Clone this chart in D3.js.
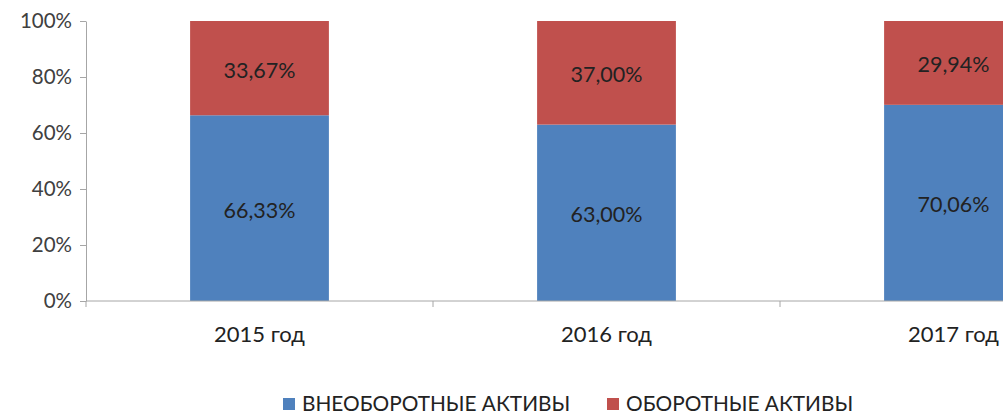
<!DOCTYPE html>
<html>
<head>
<meta charset="utf-8">
<script src="https://cdn.jsdelivr.net/npm/d3@7"></script>
<style>
  body { margin: 0; background: #fff; }
  text { font-family: Lato, "Open Sans", sans-serif; fill: #333; }
</style>
</head>
<body>
<div id="chart"></div>
<script>
// data
const years = ["2015 год", "2016 год", "2017 год"]
const nonCurrent = [66.33, 63.00, 70.06]  // ВНЕОБОРОТНЫЕ АКТИВЫ
const current = [33.67, 37.00, 29.94]     // ОБОРОТНЫЕ АКТИВЫ
const seriesNames = ["ВНЕОБОРОТНЫЕ АКТИВЫ", "ОБОРОТНЫЕ АКТИВЫ"]
const seriesColors = ["#4f81bd", "#c0504d"]
const yTicks = [0, 20, 40, 60, 80, 100]

const width = 1003, height = 418
const margin = { top: 21, left: 86, bottom: 117 }

const svg = d3.select("#chart").append("svg")
    .attr("width", width).attr("height", height)

// the chart is cropped on the right, so the band scale runs past the edge
const bandW = 347
const x = d3.scaleBand().domain(years)
    .range([margin.left, margin.left + bandW * years.length])
    .paddingInner(0.6).paddingOuter(0.3)
const y = d3.scaleLinear().domain([0, 100]).range([height - margin.bottom, margin.top])

const fmt = v => v.toFixed(2).replace(".", ",") + "%"

// stacked rows
var rows = years.map((yr, i) => ({ year: yr, s0: nonCurrent[i], s1: current[i] }))
var stack = d3.stack().keys(["s0", "s1"])(rows)

stack.forEach((layer, li) => {
    svg.append("g").selectAll("rect")
        .data(layer)
        .join("rect")
        .attr("x", d => x(d.data.year))
        .attr("y", d => y(d[1]))
        .attr("width", x.bandwidth())
        .attr("height", d => y(d[0]) - y(d[1]))
        .attr("fill", seriesColors[li])
    svg.append("g").selectAll("text")
        .data(layer)
        .join("text")
        .attr("x", d => x(d.data.year) + x.bandwidth() / 2)
        .attr("y", d => y((d[0] + d[1]) / 2) + 2)
        .attr("dy", "0.35em")
        .attr("text-anchor", "middle")
        .style("font-size", "21.5px")
        .style("fill", "#222")
        .text(d => fmt(d[1] - d[0]))
})

// y axis
const yAxis = svg.append("g").attr("transform", `translate(${margin.left},0)`)
    .call(d3.axisLeft(y).tickValues(yTicks).tickFormat(d => d + "%").tickSize(6).tickSizeOuter(0))
yAxis.selectAll("line, path").attr("stroke", "#a6a6a6")
yAxis.selectAll("text").style("font-size", "20.5px").attr("x", -14).style("fill", "#404040")

// x axis with ticks between categories
const x0 = margin.left, x1 = margin.left + bandW * years.length
const xg = svg.append("g")
xg.append("line").attr("x1", x0).attr("x2", x1)
    .attr("y1", y(0)).attr("y2", y(0)).attr("stroke", "#a6a6a6")
xg.selectAll("line.tick")
    .data(d3.range(years.length + 1))
    .join("line").attr("class", "tick")
    .attr("x1", i => x0 + i * bandW).attr("x2", i => x0 + i * bandW)
    .attr("y1", y(0)).attr("y2", y(0) + 6).attr("stroke", "#a6a6a6")
xg.selectAll("text")
    .data(years)
    .join("text")
    .attr("x", d => x(d) + x.bandwidth() / 2)
    .attr("y", y(0) + 41)
    .attr("text-anchor", "middle")
    .style("font-size", "22px")
    .style("fill", "#222")
    .text(d => d)

// legend
const legend = svg.append("g")
const legendX = [283, 607]
seriesNames.forEach((n, i) => {
    legend.append("rect").attr("x", legendX[i]).attr("y", 398)
        .attr("width", 12).attr("height", 12).attr("fill", seriesColors[i])
    legend.append("text").attr("x", legendX[i] + 19).attr("y", 404)
        .attr("dy", "0.35em")
        .style("font-size", "20.8px").style("fill", "#222")
        .text(n)
})
</script>
</body>
</html>
